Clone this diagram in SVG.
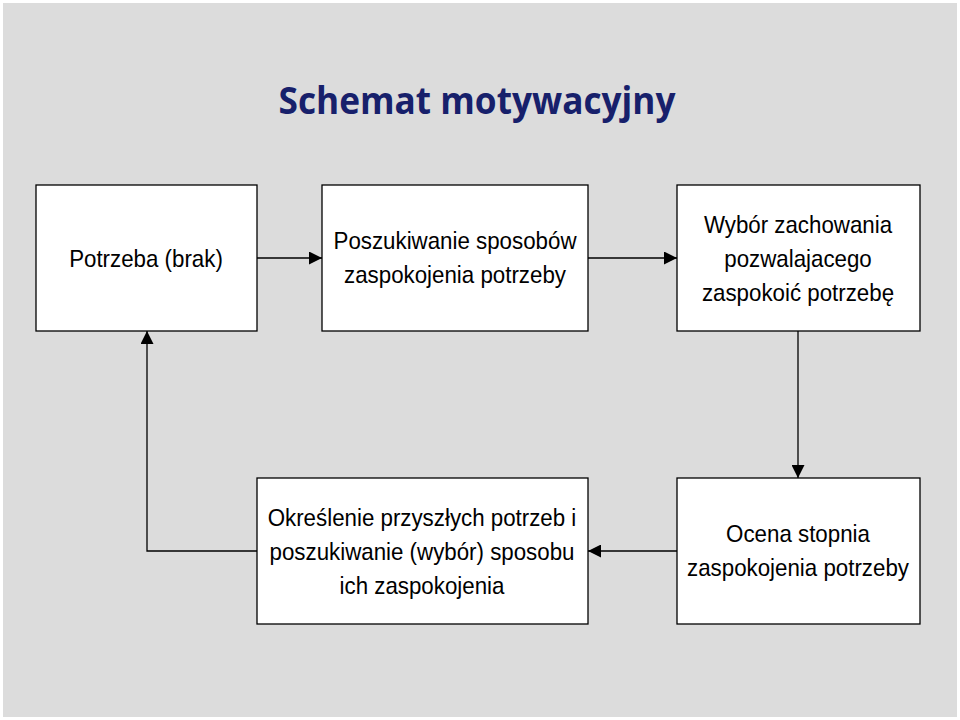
<svg xmlns="http://www.w3.org/2000/svg" width="960" height="720" viewBox="0 0 960 720">
<defs>
<style>
.b{fill:#fff;stroke:#000;stroke-width:1.3}
.t{font-family:"Liberation Sans",Arial,sans-serif;font-size:24px;fill:#000;text-anchor:middle}
.c{fill:none;stroke:#000;stroke-width:1.3}
</style>
<marker id="a" viewBox="0 0 10 10" refX="10" refY="5" markerWidth="13" markerHeight="13" markerUnits="userSpaceOnUse" orient="auto"><path d="M0,0L10,5L0,10z" fill="#000"/></marker>
</defs>
<rect x="0" y="0" width="960" height="720" fill="#fff"/>
<rect x="3" y="3" width="954" height="714" fill="#dcdcdc"/>
<text x="477" y="114" font-family="'Open Sans','Liberation Sans',sans-serif" font-size="38" font-weight="bold" fill="#17206b" text-anchor="middle" textLength="397" lengthAdjust="spacingAndGlyphs">Schemat motywacyjny</text>
<g id="n1"><rect class="b" x="36" y="185" width="221" height="146"/><g transform="translate(146,0) scale(0.93,1)"><text class="t" x="0" y="267">Potrzeba (brak)</text></g></g>
<g id="n2"><rect class="b" x="322" y="185" width="266" height="146"/><g transform="translate(455,0) scale(0.93,1)"><text class="t" x="0" y="249">Poszukiwanie sposobów</text><text class="t" x="0" y="283">zaspokojenia potrzeby</text></g></g>
<g id="n3"><rect class="b" x="677" y="185" width="243" height="146"/><g transform="translate(798,0) scale(0.93,1)"><text class="t" x="0" y="233">Wybór zachowania</text><text class="t" x="0" y="267">pozwalajacego</text><text class="t" x="0" y="301">zaspokoić potrzebę</text></g></g>
<g id="n4"><rect class="b" x="257" y="478" width="331" height="146"/><g transform="translate(422,0) scale(0.93,1)"><text class="t" x="0" y="526">Określenie przyszłych potrzeb i</text><text class="t" x="0" y="560">poszukiwanie (wybór) sposobu</text><text class="t" x="0" y="594">ich zaspokojenia</text></g></g>
<g id="n5"><rect class="b" x="677" y="478" width="243" height="146"/><g transform="translate(798,0) scale(0.93,1)"><text class="t" x="0" y="542">Ocena stopnia</text><text class="t" x="0" y="576">zaspokojenia potrzeby</text></g></g>
<g id="connectors">
<path class="c" d="M257,258H322" marker-end="url(#a)"/>
<path class="c" d="M588,258H677" marker-end="url(#a)"/>
<path class="c" d="M798,331V478" marker-end="url(#a)"/>
<path class="c" d="M677,551H588" marker-end="url(#a)"/>
<path class="c" d="M257,551H147V331" marker-end="url(#a)"/>
</g>
</svg>
